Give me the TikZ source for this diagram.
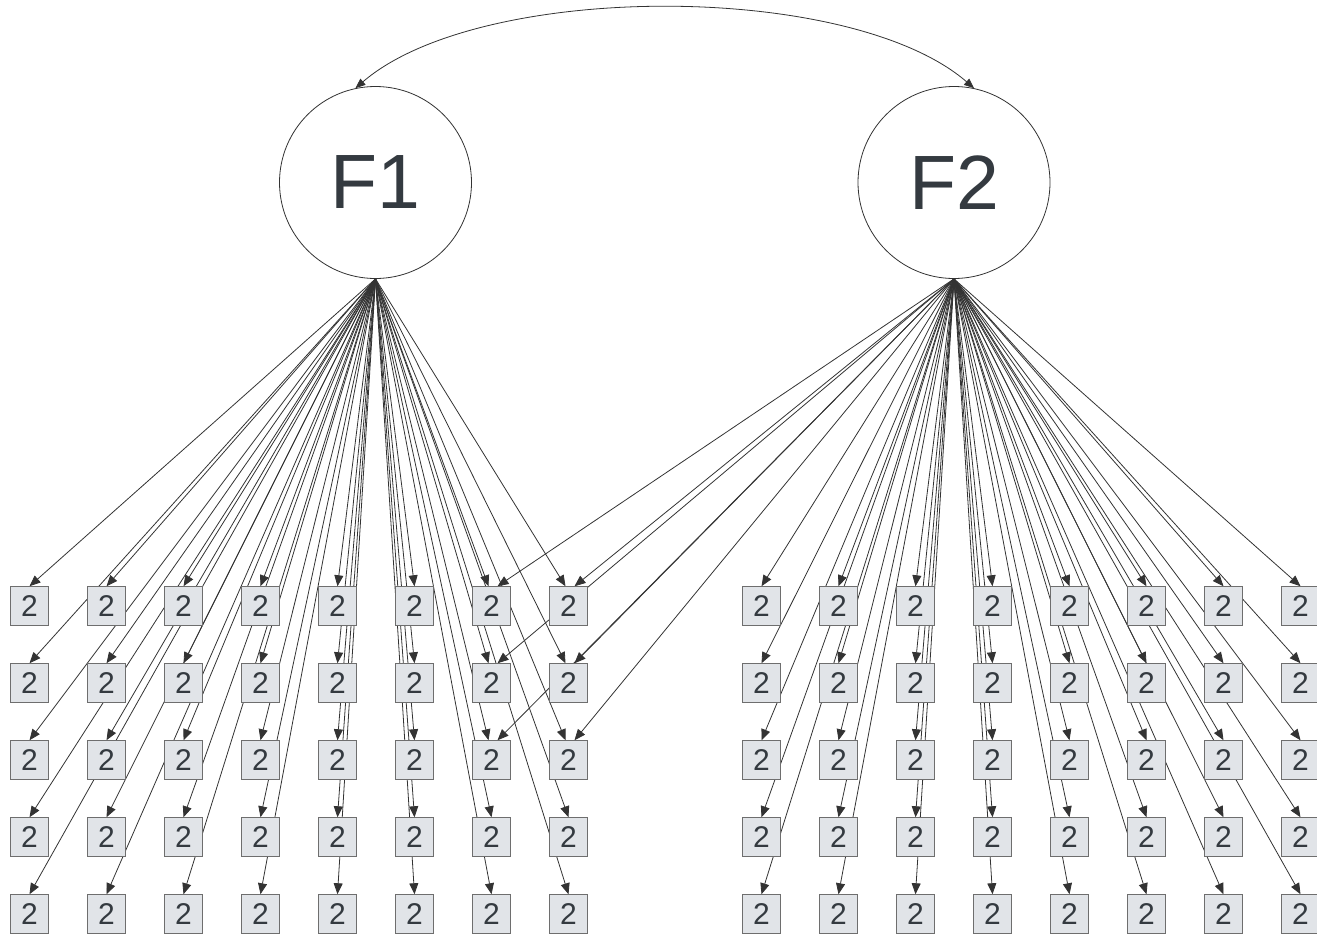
\documentclass[tikz,border=0pt]{standalone}
\usepackage{fontspec}
\setmainfont{Liberation Sans}
\usetikzlibrary{arrows.meta}
\definecolor{ink}{HTML}{343A40}
\definecolor{edgeink}{HTML}{333333}
\definecolor{boxfill}{HTML}{E1E4E8}
\definecolor{boxline}{HTML}{6E6E6E}
\pgfdeclarelayer{background}
\pgfsetlayers{background,main}
\begin{document}
\begin{tikzpicture}[x=1pt,y=-1pt,
  latent/.style={circle,draw=edgeink,fill=white,line width=0.8pt,minimum size=192pt,
    inner sep=0pt,text=ink,font=\fontsize{77}{77}\selectfont},
  indicator/.style={rectangle,draw=boxline,fill=boxfill,line width=1pt,minimum size=38.5pt,
    inner sep=0pt,text=ink,font=\fontsize{30}{30}\selectfont},
  load/.style={draw=edgeink,line width=0.8pt,-{Triangle[length=11pt,width=9pt]}},
  covar/.style={draw=edgeink,line width=0.8pt,
    {Triangle[length=10pt,width=8pt]}-{Triangle[length=10pt,width=8pt]}},
]
\useasboundingbox (0,0) rectangle (1317,935);

% latent factors
\node[latent] (F1) at (375.5,182.5) {F1};
\node[latent] (F2) at (954,182.5) {F2};

% indicator grids: x-row-col (left block), y-row-col (right block)
\foreach \c in {1,...,8}{
  \foreach \r in {1,...,5}{
    \node[indicator] (x-\r-\c) at ({29.5+77*(\c-1)},{606+77*(\r-1)}) {2};
    \node[indicator] (y-\r-\c) at ({761.5+77*(\c-1)},{606+77*(\r-1)}) {2};
  }
}

% factor covariance
\draw[covar] (F1.102) .. controls (480,-19) and (850,-19) .. (F2.78);

\begin{pgfonlayer}{background}
  % loadings of F1 on its own block
  \foreach \c in {1,...,6}{
    \foreach \r in {1,...,5}{
      \draw[load] (F1.south) -- (x-\r-\c.north);
    }
  }
  \foreach \c in {7,8}{
    \foreach \r in {4,5}{
      \draw[load] (F1.south) -- (x-\r-\c.north);
    }
    \foreach \r in {1,2,3}{
      \draw[load] (F1.south) -- ([xshift=-3pt]x-\r-\c.north);
      \draw[load] (F2.south) -- ([xshift=6pt]x-\r-\c.north);
    }
  }
  % loadings of F2 on its own block
  \foreach \c in {1,...,8}{
    \foreach \r in {1,...,5}{
      \draw[load] (F2.south) -- (y-\r-\c.north);
    }
  }
\end{pgfonlayer}
\end{tikzpicture}
\end{document}
